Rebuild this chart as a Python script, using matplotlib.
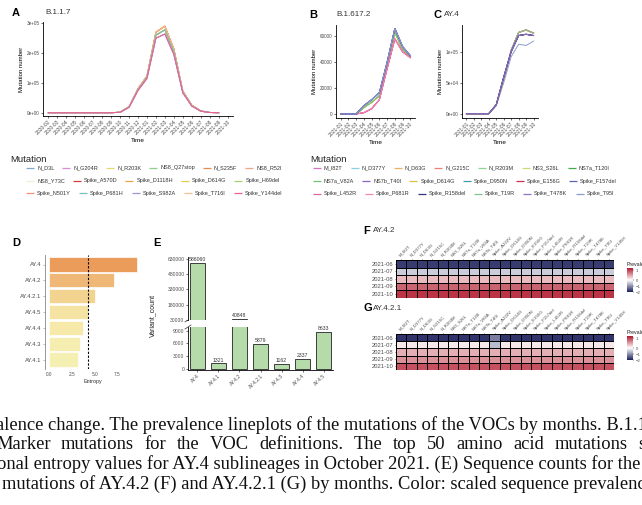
import numpy as np
import matplotlib.pyplot as plt
from matplotlib.colors import LinearSegmentedColormap, TwoSlopeNorm

plt.rcParams['font.family'] = ['Liberation Sans', 'DejaVu Sans']

W, H = 642, 505

# ---- panel A: B.1.1.7 mutation counts by month
a_months = ['2020-02', '2020-03', '2020-04', '2020-05', '2020-06', '2020-07', '2020-08',
            '2020-09', '2020-10', '2020-11', '2020-12', '2021-01', '2021-02', '2021-03',
            '2021-04', '2021-05', '2021-06', '2021-07', '2021-08', '2021-09', '2021-10']
a_high = [0, 0, 0, 0, 0, 0, 0, 0, 1500, 20000, 80000, 122000, 268000, 288000, 212000, 72000, 25000, 6000, 800, 100]
a_mid = [0, 0, 0, 0, 0, 0, 0, 0, 1400, 19000, 77000, 118000, 258000, 276000, 203000, 69000, 23500, 5500, 700, 100]
a_low = [0, 0, 0, 0, 0, 0, 0, 0, 1300, 18000, 74000, 114000, 248000, 262000, 194000, 66000, 22000, 5000, 600, 100]
a_mutations = ['N_D3L', 'N_G204R', 'N_R203K', 'NS8_Q27stop', 'N_S235F', 'NS8_R52I',
               'NS8_Y73C', 'Spike_A570D', 'Spike_D1118H', 'Spike_D614G', 'Spike_H69del',
               'Spike_N501Y', 'Spike_P681H', 'Spike_S982A', 'Spike_T716I', 'Spike_Y144del']
a_colors = ['#7fa7c9', '#d88bd6', '#e6dc6a', '#8ecf8e', '#ee8a4e', '#f1a282',
            '#f5efd2', '#e0383a', '#f0a040', '#e5cd4f', '#9fd66e',
            '#f29282', '#6fc6b6', '#a391d1', '#f7c08e', '#ef6190']
a_group = ['mid', 'low', 'mid', 'mid', 'high', 'high',
           'mid', 'high', 'high', 'mid', 'mid',
           'mid', 'mid', 'low', 'high', 'low']
a_legend_rows = [6, 5, 5]

# ---- panels B and C: B.1.617.2 and AY.4
bc_months = ['2021-01', '2021-02', '2021-03', '2021-04', '2021-05',
             '2021-06', '2021-07', '2021-08', '2021-09', '2021-10']
b_high = [0, 0, 0, 6500, 11000, 16500, 40000, 66000, 52000, 45000]
b_mid = [0, 0, 0, 5000, 9000, 14000, 38000, 63000, 50000, 44000]
b_low = [0, 0, 0, 1000, 4000, 11000, 35000, 58000, 48000, 43500]
c_high = [0, 0, 0, 0, 14000, 56000, 102000, 131000, 135000, 130000]
c_mid = [0, 0, 0, 0, 14500, 59000, 100000, 126000, 128000, 126000]
c_low = [0, 0, 0, 0, 13000, 50000, 92000, 112000, 110000, 117000]
bc_mutations = ['M_I82T', 'N_D377Y', 'N_D63G', 'N_G215C', 'N_R203M', 'NS3_S26L', 'NS7a_T120I',
                'NS7a_V82A', 'NS7b_T40I', 'Spike_D614G', 'Spike_D950N', 'Spike_E156G', 'Spike_F157del',
                'Spike_L452R', 'Spike_P681R', 'Spike_R158del', 'Spike_T19R', 'Spike_T478K', 'Spike_T95I']
bc_colors = ['#dd6fc4', '#86d3e3', '#f0b060', '#ef7f6f', '#8fd48f', '#c2df72', '#3fae4a',
             '#74c374', '#8f62c2', '#e0c040', '#3d9fa2', '#cf2f4f', '#5f63b4',
             '#e063a2', '#f285b5', '#2e3585', '#7fc585', '#9372c4', '#8a9ccc']
b_group = ['low', 'mid', 'mid', 'low', 'mid', 'mid', 'mid',
           'mid', 'high', 'mid', 'high', 'low', 'high',
           'low', 'low', 'high', 'mid', 'high', 'high']
c_group = ['high', 'mid', 'high', 'mid', 'high', 'high', 'high',
           'high', 'mid', 'high', 'mid', 'mid', 'mid',
           'high', 'high', 'mid', 'high', 'mid', 'low']
bc_legend_rows = [7, 6, 6]

# ---- panel D: entropy of AY.4 sublineages
d_lineages = ['AY.4', 'AY.4.2', 'AY.4.2.1', 'AY.4.5', 'AY.4.4', 'AY.4.3', 'AY.4.1']
d_entropy = [9.6, 7.1, 5.0, 4.2, 3.7, 3.4, 3.1]
d_colors = ['#ec9c5a', '#f0b877', '#f3d390', '#f5e3a3', '#f6e9aa', '#f6edb0', '#f6efb4']
d_cutoff = 4.25

# ---- panel E: sequence counts
e_lineages = ['AY.4', 'AY.4.1', 'AY.4.2', 'AY.4.2.1', 'AY.4.3', 'AY.4.4', 'AY.4.5']
e_counts = [586060, 1321, 40848, 5879, 1162, 2337, 8633]

# ---- panels F and G: scaled prevalence heatmaps
hm_mutations = ['M_I82T', 'N_D377Y', 'N_D63G', 'N_G215C', 'N_R203M', 'NS3_S26L', 'NS7a_T120I',
                'NS7a_V82A', 'NS7b_T40I', 'Spike_A222V', 'Spike_D614G', 'Spike_D950N', 'Spike_E156G',
                'Spike_F157del', 'Spike_L452R', 'Spike_P681R', 'Spike_R158del', 'Spike_T19R',
                'Spike_T478K', 'Spike_T95I', 'Spike_Y145H']
hm_months = ['2021-06', '2021-07', '2021-08', '2021-09', '2021-10']
f_jun = [-1.75] * 21
f_jul = [-0.45] * 21
f_aug = [0.35] * 21
f_sep = [0.8] * 21
f_oct = [1.05] * 21
g_jun = [-1.8] * 9 + [-1.15] + [-1.8] * 11
g_jul = [0.12] * 9 + [-0.6] + [0.12] * 11
g_aug = [0.42] * 21
g_sep = [0.58] * 21
g_oct = [0.9] * 21

caption = ['alence change. The prevalence lineplots of the mutations of the VOCs by months. B.1.1.7',
           'Marker mutations for the VOC definitions. The top 50 amino acid mutations s',
           'onal entropy values for AY.4 sublineages in October 2021. (E) Sequence counts for the',
           'mutations of AY.4.2 (F) and AY.4.2.1 (G) by months. Color: scaled sequence prevalence']

TICK_COL = '#4d4d4d'


def box(l, t, r, b):
    return [l / W, 1 - b / H, (r - l) / W, (b - t) / H]


def classic(ax, fs=3.3):
    for s in ['top', 'right']:
        ax.spines[s].set_visible(False)
    for s in ['left', 'bottom']:
        ax.spines[s].set_linewidth(0.6)
    ax.tick_params(length=1.5, width=0.4, labelsize=fs, labelcolor=TICK_COL, pad=1)


def line_panel(ax, months, profiles, groups, order, names, colors, ylim, yticks, ylabels):
    classic(ax)
    for g in order:
        for name, col, grp in zip(names, colors, groups):
            if grp == g:
                vals = profiles[g]
                ax.plot(np.arange(len(vals)), vals, color=col, lw=0.7)
    ax.set_xticks(np.arange(len(months)))
    ax.set_xticklabels(months, rotation=45, ha='right', rotation_mode='anchor', fontsize=3.6)
    ax.set_xlim(-0.6, len(months) - 0.4)
    ax.set_ylim(*ylim)
    ax.set_yticks(yticks)
    ax.set_yticklabels(ylabels)
    ax.set_xlabel('Time', fontsize=4.6, labelpad=1.5)
    ax.set_ylabel('Mutation number', fontsize=4.3, labelpad=2)


fig = plt.figure(figsize=(W / 100, H / 100), dpi=100)
renderer = fig.canvas.get_renderer()
ov = fig.add_axes([0, 0, 1, 1])
ov.set_xlim(0, W)
ov.set_ylim(H, 0)
ov.axis('off')


def ftext(x, y, s, **kw):
    return ov.text(x, y, s, va='center', ha='left', **kw)


# panel letters and titles
for letter, lx, ly in [('A', 12, 13), ('B', 309, 15), ('C', 434, 15), ('D', 12, 243),
                       ('E', 153, 243), ('F', 363, 231), ('G', 363, 308)]:
    ftext(lx, ly, letter, fontsize=8, fontweight='bold')
for title, tx, ty in [('B.1.1.7', 45, 13), ('B.1.617.2', 336, 15), ('AY.4', 444, 15),
                      ('AY.4.2', 373, 231), ('AY.4.2.1', 373, 308)]:
    ftext(tx, ty, title, fontsize=5.8, color='#333333')

# A
axA = fig.add_axes(box(43, 22, 233, 116))
line_panel(axA, a_months, {'high': a_high, 'mid': a_mid, 'low': a_low}, a_group,
           ['high', 'mid', 'low'], a_mutations, a_colors,
           (-11000, 302000), [0, 100000, 200000, 300000], ['0e+00', '1e+05', '2e+05', '3e+05'])

# B
axB = fig.add_axes(box(336, 25, 415, 118))
line_panel(axB, bc_months, {'high': b_high, 'mid': b_mid, 'low': b_low}, b_group,
           ['mid', 'low', 'high'], bc_mutations, bc_colors,
           (-3100, 68700), [0, 20000, 40000, 60000], ['0', '20000', '40000', '60000'])

# C
axC = fig.add_axes(box(462, 25, 538, 118))
line_panel(axC, bc_months, {'high': c_high, 'mid': c_mid, 'low': c_low}, c_group,
           ['low', 'high', 'mid'], bc_mutations, bc_colors,
           (-7000, 143000), [0, 50000, 100000], ['0e+00', '5e+04', '1e+05'])


def legend(x_title, x_key, row_y, names, colors, rows):
    # each legend row flows left to right on its own
    ftext(x_title, 160, 'Mutation', fontsize=6.8, color='#222222')
    i = 0
    for r, n in enumerate(rows):
        kx, ky = x_key, row_y[r]
        for c in range(n):
            ov.plot([kx, kx + 8], [ky, ky], color=colors[i], lw=0.9, solid_capstyle='butt')
            t = ftext(kx + 11, ky, names[i], fontsize=4.0, color='#333333')
            kx += 11 + t.get_window_extent(renderer).width + 8
            i += 1


legend(10, 26, [167.7, 180.5, 193.3], a_mutations, a_colors, a_legend_rows)
legend(310, 313, [167.7, 181, 194], bc_mutations, bc_colors, bc_legend_rows)

# D
axD = fig.add_axes(box(45, 255, 141, 369))
classic(axD, fs=4.2)
yd = np.arange(len(d_lineages))
axD.barh(yd, d_entropy, height=0.9, color=d_colors, edgecolor='white', linewidth=0.5)
axD.axvline(d_cutoff, color='black', lw=0.8, ls=(0, (2, 1.5)))
axD.set_yticks(yd)
axD.set_yticklabels(d_lineages)
axD.set_ylim(len(d_lineages) - 0.4, -0.6)
axD.set_xlim(-0.48, 10.08)
axD.set_xticks([0, 2.5, 5, 7.5])
axD.set_xticklabels(['0.0', '2.5', '5.0', '7.5'], fontsize=3.4)
axD.spines['bottom'].set_visible(False)
axD.spines['left'].set_color('#888888')
axD.tick_params(axis='x', length=0, pad=2)
axD.tick_params(axis='y', color='#888888')
axD.set_xlabel('Entropy', fontsize=3.9, labelpad=1.5, color='#333333')

# E (broken y axis)
axE1 = fig.add_axes(box(188, 257, 333, 320))
axE2 = fig.add_axes(box(188, 327, 333, 370))
xe = np.arange(len(e_lineages))
for ax in (axE1, axE2):
    classic(ax, fs=3.6)
    ax.bar(xe, e_counts, width=0.68, color='#b6dbab', edgecolor='#222222', linewidth=0.6)
    for xi, v in zip(xe, e_counts):
        ax.annotate(str(v), (xi, v), xytext=(0, 0.6), textcoords='offset points',
                    ha='center', va='bottom', fontsize=3.7, color='#333333', annotation_clip=True)
    ax.set_xlim(-0.45, len(e_lineages) - 0.55)
axE1.set_ylim(30000, 645000)
axE1.set_yticks([30000, 180000, 330000, 480000, 630000])
axE1.spines['bottom'].set_visible(False)
axE1.set_xticks([])
axE2.set_ylim(-200, 9850)
axE2.set_yticks([0, 3000, 6000, 9000])
axE2.set_xticks(xe)
axE2.set_xticklabels(e_lineages, rotation=45, ha='right', rotation_mode='anchor', fontsize=3.6)
ov.plot([185, 191], [322, 318], color='#333333', lw=0.5)
ov.plot([185, 191], [329, 325], color='#333333', lw=0.5)
ov.text(153, 315, 'Variant_count', rotation=90, ha='center', va='center', fontsize=5, color='#222222')

# F and G heatmaps
cmap = LinearSegmentedColormap.from_list('prev', ['#1a1f5c', '#ffffff', '#b2182b'])
norm = TwoSlopeNorm(vmin=-2, vcenter=0, vmax=1.2)
for rows, hm_box, cb_box in [([f_jun, f_jul, f_aug, f_sep, f_oct], (396, 260, 614, 297.5), (627, 268, 633, 292)),
                             ([g_jun, g_jul, g_aug, g_sep, g_oct], (396, 334, 614, 370), (627, 336, 633, 360))]:
    ax = fig.add_axes(box(*hm_box))
    mesh = ax.pcolormesh(np.array(rows), cmap=cmap, norm=norm, edgecolors='black', linewidth=0.5)
    ax.set_ylim(len(hm_months), 0)
    ax.set_yticks(np.arange(len(hm_months)) + 0.5)
    ax.set_yticklabels(hm_months, fontsize=4.2, color=TICK_COL)
    ax.xaxis.tick_top()
    ax.set_xticks(np.arange(len(hm_mutations)) + 0.5)
    ax.set_xticklabels(hm_mutations, rotation=45, ha='left', rotation_mode='anchor',
                       fontsize=3.2, color=TICK_COL)
    ax.tick_params(length=1, width=0.4, pad=1)
    for s in ax.spines.values():
        s.set_visible(False)
    cax = fig.add_axes(box(*cb_box))
    cb = fig.colorbar(mesh, cax=cax, ticks=[-2, -1, 0, 1])
    cb.outline.set_visible(False)
    cax.tick_params(labelsize=3.1, length=1, width=0.3, pad=1, labelcolor=TICK_COL)
    ftext(cb_box[0], cb_box[1] - 4, 'Prevalence', fontsize=3.8, color='#222222')

# figure caption, cut at both edges like the reference
cap_kw = dict(fontsize=13.3, family=['Liberation Serif', 'DejaVu Serif'], color='#111111')
cap_y = [425, 444.5, 464.3, 484]
ftext(-4, cap_y[0], caption[0], **cap_kw)
ftext(-3, cap_y[2], caption[2], **cap_kw)
ftext(2, cap_y[3], caption[3], **cap_kw)

# second line is justified in the source
words = caption[1].split()
widths = []
for w in words:
    t = ov.text(0, 0, w, **cap_kw)
    widths.append(t.get_window_extent(renderer).width)
    t.remove()
left, right = -4, 645
gap = (right - left - sum(widths)) / (len(words) - 1)
x = left
for w, wd in zip(words, widths):
    ftext(x, cap_y[1], w, **cap_kw)
    x += wd + gap

fig.savefig('out.png', dpi=100)
